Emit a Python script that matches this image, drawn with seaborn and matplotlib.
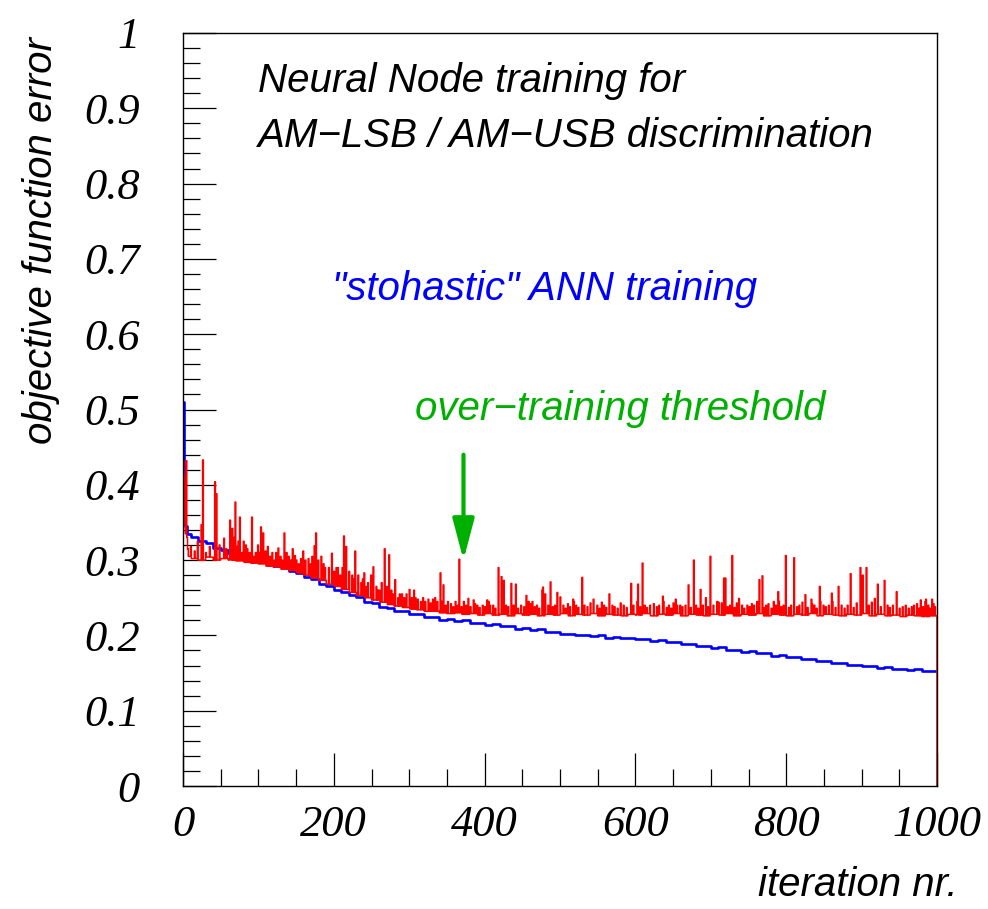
import numpy as np
import pandas as pd
import matplotlib
matplotlib.use("Agg")
import matplotlib.pyplot as plt
import seaborn as sns
from matplotlib.ticker import MultipleLocator

# ---------------- data ----------------
# "stohastic" ANN training (blue): value held from each block start to the next
blue_start = [0, 1, 2, 5] + list(range(10, 1000, 10))
blue_err = [0.510, 0.425, 0.345, 0.334,
            0.331, 0.325, 0.323, 0.316, 0.314, 0.309, 0.309, 0.303, 0.303,
            0.298, 0.297, 0.292, 0.291, 0.285, 0.283, 0.277, 0.275, 0.268, 0.266,
            0.260, 0.258, 0.253, 0.251, 0.245, 0.243, 0.238, 0.237, 0.232, 0.232,
            0.228, 0.228, 0.224, 0.224, 0.221, 0.222, 0.219, 0.220, 0.217, 0.217,
            0.214, 0.215, 0.212, 0.213, 0.209, 0.210, 0.207, 0.208, 0.204, 0.205,
            0.202, 0.202, 0.200, 0.201, 0.199, 0.200, 0.197, 0.198, 0.196, 0.197,
            0.195, 0.195, 0.193, 0.194, 0.191, 0.191, 0.188, 0.189, 0.186, 0.186,
            0.183, 0.184, 0.181, 0.181, 0.178, 0.179, 0.176, 0.176, 0.173, 0.174,
            0.171, 0.171, 0.168, 0.168, 0.166, 0.166, 0.163, 0.164, 0.161, 0.161,
            0.159, 0.160, 0.157, 0.158, 0.156, 0.156, 0.154, 0.155, 0.153, 0.153]

# over-training curve (red): floor level per 10-iteration block ...
red_block_start = list(range(0, 1000, 10))
red_floor = [0.305, 0.302, 0.300, 0.304, 0.300, 0.302, 0.300, 0.299, 0.297, 0.296,
             0.295, 0.292, 0.291, 0.288, 0.286, 0.283, 0.280, 0.276, 0.273, 0.268,
             0.265, 0.261, 0.257, 0.253, 0.250, 0.247, 0.244, 0.241, 0.239, 0.237,
             0.235, 0.234, 0.232, 0.232, 0.230, 0.229, 0.230, 0.228, 0.229, 0.227,
             0.229, 0.227, 0.228, 0.226, 0.229, 0.227, 0.228, 0.226, 0.228, 0.227,
             0.229, 0.226, 0.228, 0.227, 0.229, 0.226, 0.228, 0.227, 0.226, 0.228,
             0.227, 0.229, 0.226, 0.228, 0.227, 0.229, 0.226, 0.228, 0.227, 0.226,
             0.228, 0.227, 0.229, 0.226, 0.228, 0.227, 0.229, 0.226, 0.228, 0.227,
             0.226, 0.228, 0.227, 0.229, 0.226, 0.228, 0.227, 0.226, 0.228, 0.227,
             0.229, 0.226, 0.228, 0.226, 0.227, 0.225, 0.227, 0.226, 0.225, 0.226]

# small single-iteration excursions (iteration, error)
small_iter = [58, 63, 67, 71, 73, 78, 83, 88, 93, 99, 101, 109, 115, 121, 123, 129,
              131, 137, 143, 148, 153, 156, 162, 169, 171, 179, 186, 193, 200, 203,
              208, 211, 224, 226, 236, 238, 243, 256, 258, 263, 270, 276, 278, 285,
              287, 293, 296, 303, 311, 315, 318, 321, 328, 331, 337, 343, 348, 355,
              358, 364, 369, 375, 381, 390, 393, 397, 400, 411, 414, 428, 431, 438,
              444, 448, 452, 466, 469, 472, 484, 490, 493, 507, 513, 521, 524, 532,
              536, 552, 558, 561, 569, 572, 576, 584, 588, 597, 606, 612, 615, 619,
              628, 631, 641, 644, 647, 659, 662, 666, 673, 680, 683, 689, 696, 703,
              722, 725, 731, 741, 744, 748, 751, 757, 771, 773, 780, 786, 793, 796,
              803, 806, 814, 817, 828, 837, 840, 849, 852, 856, 865, 873, 877, 881,
              889, 909, 925, 934, 937, 941, 950, 954, 958, 962, 966, 969, 976, 981,
              988, 990, 997]
small_err = [0.310, 0.320, 0.330, 0.318, 0.325, 0.310, 0.320, 0.310, 0.305, 0.320,
             0.310, 0.312, 0.305, 0.300, 0.310, 0.305,
             0.300, 0.310, 0.300, 0.306, 0.295, 0.302, 0.300, 0.295, 0.305, 0.300,
             0.295, 0.290, 0.285, 0.290,
             0.280, 0.290, 0.280, 0.275, 0.270, 0.275, 0.265, 0.265, 0.260, 0.270,
             0.265, 0.260, 0.255, 0.250,
             0.255, 0.250, 0.255, 0.250, 0.248, 0.245, 0.250, 0.245, 0.243, 0.248,
             0.245, 0.245, 0.240, 0.242,
             0.238, 0.240, 0.238, 0.240, 0.238, 0.240, 0.237, 0.240, 0.238, 0.240,
             0.236, 0.240, 0.238, 0.240,
             0.236, 0.240, 0.238, 0.238, 0.240, 0.236, 0.240, 0.238, 0.240, 0.236,
             0.238, 0.240, 0.237, 0.240,
             0.238, 0.236, 0.240, 0.237, 0.240, 0.238, 0.236, 0.240, 0.237, 0.240,
             0.238, 0.240, 0.237, 0.240,
             0.238, 0.240, 0.237, 0.240, 0.236, 0.240, 0.238, 0.240, 0.237, 0.240,
             0.236, 0.240, 0.238, 0.240,
             0.238, 0.240, 0.237, 0.240, 0.236, 0.240, 0.238, 0.240, 0.237, 0.240,
             0.236, 0.240, 0.238, 0.240,
             0.237, 0.240, 0.238, 0.240, 0.237, 0.240, 0.236, 0.240, 0.238, 0.240,
             0.237, 0.240, 0.236, 0.240,
             0.237, 0.240, 0.238, 0.240, 0.237, 0.240, 0.236, 0.238, 0.240, 0.236,
             0.238, 0.240, 0.236, 0.238,
             0.240, 0.236, 0.238]

# ... and the visible single-iteration spikes (iteration, error)
spike_iter = [0, 1, 2, 3, 4, 5, 6, 10, 15, 19, 24, 26, 30, 35, 42, 44, 48, 54, 57,
              62, 65, 69, 75, 80, 85, 91, 96, 103, 106, 112, 118, 126, 134, 140,
              145, 150, 159, 166, 174, 176, 183, 188, 197, 205, 213, 216, 220, 228,
              232, 240, 245, 249, 252, 260, 267, 273, 281, 290, 300, 306, 308, 325,
              334, 341, 345, 351, 361, 366, 372, 378, 385, 387, 403, 405, 407, 418,
              422, 425, 435, 441, 455, 458, 460, 463, 476, 477, 480, 487, 496, 500,
              504, 510, 517, 518, 529, 540, 544, 549, 555, 565, 580, 594, 602, 603,
              609, 624, 636, 637, 650, 653, 655, 670, 677, 686, 693, 699, 708, 710,
              714, 717, 719, 728, 734, 737, 754, 761, 764, 768, 776, 783, 789, 790,
              799, 810, 821, 825, 833, 834, 844, 845, 860, 861, 869, 885, 893, 898,
              901, 906, 913, 917, 921, 930, 946, 973, 978, 984, 985, 993, 995]
spike_err = [0.432, 0.410, 0.350, 0.335, 0.432, 0.330, 0.315, 0.318, 0.312, 0.325,
             0.347, 0.433, 0.310, 0.318, 0.404, 0.388, 0.320, 0.329, 0.315,
             0.353, 0.342, 0.377, 0.357, 0.325, 0.315, 0.357, 0.310, 0.344, 0.336,
             0.318, 0.310, 0.316, 0.336, 0.305,
             0.315, 0.300, 0.312, 0.302, 0.319, 0.336, 0.305, 0.290, 0.309, 0.290,
             0.332, 0.318, 0.285, 0.312,
             0.280, 0.283, 0.270, 0.280, 0.291, 0.260, 0.315, 0.307, 0.274, 0.255,
             0.261, 0.260, 0.250, 0.248,
             0.250, 0.283, 0.267, 0.245, 0.245, 0.301, 0.245, 0.249, 0.247, 0.242,
             0.247, 0.245, 0.240, 0.290,
             0.278, 0.273, 0.269, 0.268, 0.253, 0.245, 0.242, 0.245, 0.260, 0.264,
             0.255, 0.271, 0.257, 0.251,
             0.240, 0.242, 0.248, 0.245, 0.277, 0.243, 0.248, 0.240, 0.244, 0.255,
             0.243, 0.269, 0.245, 0.268,
             0.296, 0.242, 0.252, 0.245, 0.243, 0.248, 0.240, 0.267, 0.300, 0.261,
             0.250, 0.305, 0.245, 0.244,
             0.243, 0.276, 0.276, 0.306, 0.243, 0.249, 0.242, 0.245, 0.274, 0.279,
             0.242, 0.245, 0.258, 0.245,
             0.306, 0.303, 0.244, 0.254, 0.248, 0.242, 0.265, 0.245, 0.256, 0.245,
             0.265, 0.282, 0.243, 0.290,
             0.280, 0.290, 0.244, 0.249, 0.268, 0.273, 0.258, 0.242, 0.247, 0.245,
             0.248, 0.248, 0.242]

x_ticks = [0, 200, 400, 600, 800, 1000]
y_ticks = [0, 0.1, 0.2, 0.3, 0.4, 0.5, 0.6, 0.7, 0.8, 0.9, 1]
y_tick_labels = ["0", "0.1", "0.2", "0.3", "0.4", "0.5", "0.6", "0.7", "0.8", "0.9", "1"]
x_tick_labels = ["0", "200", "400", "600", "800", "1000"]
n_iter = 1000

# ---------------- build histogram-style step outlines ----------------
def step_outline(starts, values, end, closed=True):
    if closed:
        xs = [starts[0]] + list(starts) + [end, end]
        ys = [0.0] + list(values) + [values[-1], 0.0]
    else:
        xs = list(starts) + [end]
        ys = list(values) + [values[-1]]
    return pd.DataFrame({"iteration": xs, "error": ys})

blue_df = step_outline(blue_start, blue_err, n_iter, closed=False)

red_bins = np.repeat(np.array(red_floor), 10)
red_bins[np.array(small_iter)] = np.array(small_err)
red_bins[np.array(spike_iter)] = np.array(spike_err)
red_df = step_outline(list(range(n_iter)), list(red_bins), n_iter)

# ---------------- figure ----------------
sns.set_style("white")
plt.rcParams["font.family"] = ["Liberation Sans", "DejaVu Sans"]

fig = plt.figure(figsize=(9.88, 9.09), dpi=100)
ax = fig.add_axes([183 / 988, 1 - 786 / 909, 754 / 988, 753 / 909])

sns.lineplot(data=blue_df, x="iteration", y="error", ax=ax, color="#0000ff",
             lw=1.9, estimator=None, sort=False, drawstyle="steps-post")
sns.lineplot(data=red_df, x="iteration", y="error", ax=ax, color="#ff0000",
             lw=1.1, estimator=None, sort=False, drawstyle="steps-post")

ax.set_xlim(0, 1000)
ax.set_ylim(0, 1)
ax.set_xlabel("")
ax.set_ylabel("")

for s in ax.spines.values():
    s.set_visible(True)
    s.set_color("black")
    s.set_linewidth(1.0)

ax.set_xticks(x_ticks)
ax.set_xticklabels(x_tick_labels)
ax.set_yticks(y_ticks)
ax.set_yticklabels(y_tick_labels)
ax.xaxis.set_minor_locator(MultipleLocator(50))
ax.yaxis.set_minor_locator(MultipleLocator(0.02))
ax.tick_params(axis="both", which="major", direction="in", length=24, width=0.9,
               color="black")
ax.tick_params(axis="both", which="minor", direction="in", length=12, width=0.9,
               color="black")
ax.tick_params(axis="x", which="both", bottom=True, top=False, pad=14)
ax.tick_params(axis="y", which="both", left=True, right=False, pad=31)
for lab in ax.get_xticklabels() + ax.get_yticklabels():
    lab.set_fontfamily(["Liberation Serif", "DejaVu Serif"])
    lab.set_fontstyle("italic")
    lab.set_fontsize(32)
    lab.set_color("black")

# axis titles (ROOT style, right/top aligned)
ax.text(-0.188, 0.995, "objective function error", transform=ax.transAxes,
        rotation=90, ha="center", va="top", fontsize=29, style="italic",
        color="black")
ax.text(1.027, -0.146, "iteration nr.", transform=ax.transAxes,
        ha="right", va="baseline", fontsize=29, style="italic", color="black")

# annotations
ax.text(0.0995, 0.9216, "Neural Node training for", transform=ax.transAxes,
        ha="left", va="baseline", fontsize=29, style="italic", color="black")
ax.text(0.0995, 0.8486, "AM\u2212LSB / AM\u2212USB discrimination",
        transform=ax.transAxes, ha="left", va="baseline", fontsize=29,
        style="italic", color="black")
ax.text(0.1976, 0.6454, "\"stohastic\" ANN training", transform=ax.transAxes,
        ha="left", va="baseline", fontsize=29, style="italic", color="#0000ff")
ax.text(0.3077, 0.486, "over\u2212training threshold", transform=ax.transAxes,
        ha="left", va="baseline", fontsize=29, style="italic", color="#00b000")

ax.annotate("", xy=(372, 0.300), xytext=(372, 0.440), xycoords="data",
            arrowprops=dict(arrowstyle="-|>,head_length=1.25,head_width=0.33",
                            mutation_scale=20, color="#00b000", lw=3,
                            shrinkA=0, shrinkB=0))

fig.savefig("out.png", dpi=100)
